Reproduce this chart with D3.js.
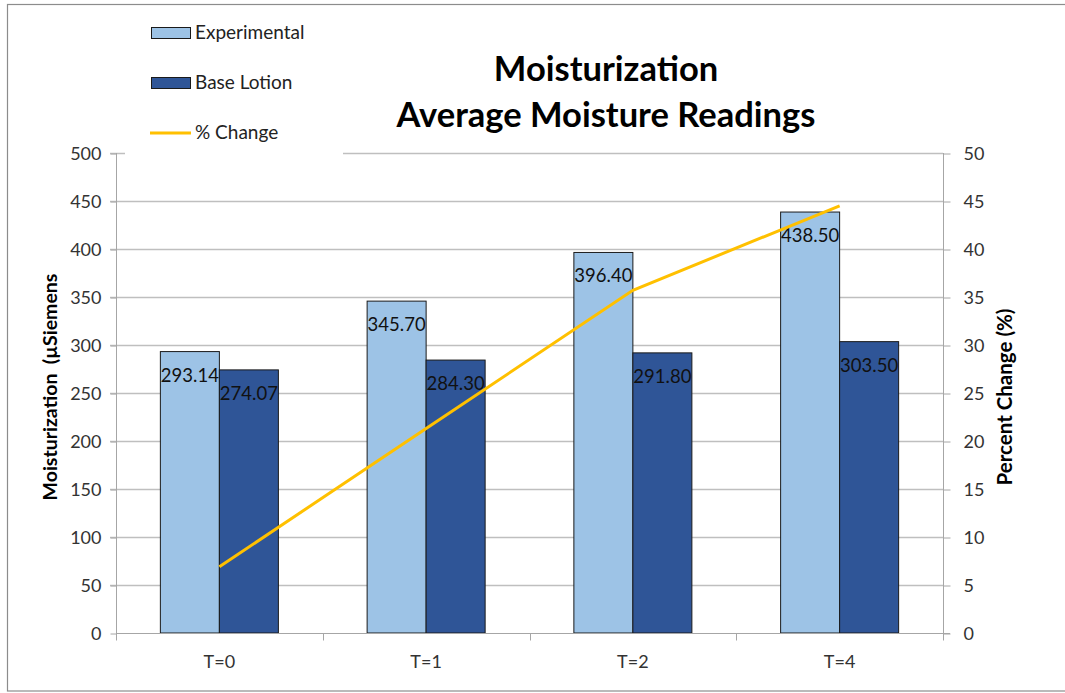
<!DOCTYPE html>
<html>
<head>
<meta charset="utf-8">
<script src="https://d3js.org/d3.v7.min.js"></script>
<style>
  body { margin: 0; background: #fff; overflow: hidden; }
  text { font-family: Lato, "Open Sans", sans-serif; }
</style>
</head>
<body>
<div id="canvas"></div>
<script>
// chart values
var categories = ["T=0", "T=1", "T=2", "T=4"];
var seriesNames = ["Experimental", "Base Lotion"];
var experimental = [293.14, 345.70, 396.40, 438.50];
var baseLotion = [274.07, 284.30, 291.80, 303.50];
var pctChange = [6.9, 21.3, 35.7, 44.5];
var leftTicks = [0, 50, 100, 150, 200, 250, 300, 350, 400, 450, 500];
var rightTicks = [0, 5, 10, 15, 20, 25, 30, 35, 40, 45, 50];

var width = 1065, height = 693;
var colors = { "Experimental": "#9dc3e6", "Base Lotion": "#2f5597" };

var svg = d3.select("#canvas").append("svg")
    .attr("width", width)
    .attr("height", height);

// outer border
svg.append("rect")
    .attr("x", 7.5).attr("y", 4.5)
    .attr("width", 1080).attr("height", 686.5)
    .attr("fill", "white").attr("stroke", "#8c8c8c").attr("stroke-width", 1.2);

var plot = { left: 116, right: 943, top: 153, bottom: 633 };

var x = d3.scaleBand().domain(categories).range([plot.left, plot.right]).padding(0);
var x1 = d3.scaleBand().domain(seriesNames).range([0, x.bandwidth()])
    .paddingInner(0).paddingOuter(0.752);
var y = d3.scaleLinear().domain([0, 500]).range([plot.bottom, plot.top]);
var y2 = d3.scaleLinear().domain([0, 50]).range([plot.bottom, plot.top]);

// gridlines
svg.append("g").selectAll("line").data(leftTicks.slice(1))
    .enter().append("line")
    .attr("x1", plot.left - 6).attr("x2", plot.right)
    .attr("y1", function (d) { return Math.round(y(d)) + 0.5; })
    .attr("y2", function (d) { return Math.round(y(d)) + 0.5; })
    .attr("stroke", "#bfbfbf").attr("stroke-width", 1.3);

// left axis
var leftAxis = svg.append("g")
    .attr("transform", "translate(" + (plot.left + 0.5) + ",0.5)")
    .call(d3.axisLeft(y).tickValues(leftTicks).tickSize(6).tickPadding(9));
// right axis
var rightAxis = svg.append("g")
    .attr("transform", "translate(" + (plot.right + 0.5) + ",0.5)")
    .call(d3.axisRight(y2).tickValues(rightTicks).tickSize(7).tickPadding(13));

[leftAxis, rightAxis].forEach(function (ax) {
    ax.selectAll(".tick line").attr("stroke", "#a6a6a6");
    ax.selectAll(".tick text").attr("fill", "#333").style("font-size", "18px")
        .style("font-family", "Lato, sans-serif");
});
leftAxis.select(".domain").remove();
rightAxis.select(".domain").remove();
svg.append("line").attr("x1", plot.left + 0.5).attr("x2", plot.left + 0.5)
    .attr("y1", plot.top).attr("y2", plot.bottom + 7).attr("stroke", "#a6a6a6");
svg.append("line").attr("x1", plot.right + 0.5).attr("x2", plot.right + 0.5)
    .attr("y1", plot.top).attr("y2", plot.bottom + 7).attr("stroke", "#a6a6a6");

// bars
var barData = [];
categories.forEach(function (c, i) {
    barData.push({ cat: c, s: "Experimental", v: experimental[i] });
    barData.push({ cat: c, s: "Base Lotion", v: baseLotion[i] });
});

svg.append("g").selectAll("rect").data(barData)
    .enter().append("rect")
    .attr("x", function (d) { return x(d.cat) + x1(d.s); })
    .attr("y", function (d) { return y(d.v); })
    .attr("width", x1.bandwidth())
    .attr("height", function (d) { return plot.bottom - y(d.v); })
    .attr("fill", function (d) { return colors[d.s]; })
    .attr("stroke", "#1a1a1a").attr("stroke-width", 1);

// x axis
var xAxis = svg.append("g")
    .attr("transform", "translate(0," + (plot.bottom + 0.5) + ")");
xAxis.append("line").attr("x1", plot.left).attr("x2", plot.right + 7)
    .attr("stroke", "#a6a6a6");
var boundaries = categories.map(function (c) { return x(c); }).concat([plot.right]);
xAxis.selectAll("line.tk").data(boundaries).enter().append("line")
    .attr("class", "tk")
    .attr("x1", function (d) { return Math.round(d) + 0.5; })
    .attr("x2", function (d) { return Math.round(d) + 0.5; })
    .attr("y1", 0).attr("y2", 7).attr("stroke", "#a6a6a6");
xAxis.selectAll("text").data(categories).enter().append("text")
    .attr("x", function (d) { return x(d) + x.bandwidth() / 2; })
    .attr("y", 34)
    .attr("text-anchor", "middle")
    .attr("fill", "#333")
    .style("font-size", "18px")
    .text(function (d) { return d; });

// data labels
svg.append("g").selectAll("text").data(barData)
    .enter().append("text")
    .attr("x", function (d) { return x(d.cat) + x1(d.s) + x1.bandwidth() / 2; })
    .attr("y", function (d) { return y(d.v) + 30; })
    .attr("text-anchor", "middle")
    .attr("fill", "#111")
    .style("font-size", "18.5px")
    .text(function (d) { return d.v.toFixed(2); });

// % change line
var line = d3.line()
    .x(function (d, i) { return x(categories[i]) + x.bandwidth() / 2; })
    .y(function (d) { return y2(d); });
svg.append("path").datum(pctChange)
    .attr("d", line)
    .attr("fill", "none")
    .attr("stroke", "#ffc000")
    .attr("stroke-width", 3);

// legend box (sits over the top of the plot)
svg.append("rect").attr("x", 125).attr("y", 10).attr("width", 218).attr("height", 149)
    .attr("fill", "white");
var legend = svg.append("g");
var legendItems = [
    { name: "Experimental", type: "bar", y: 33 },
    { name: "Base Lotion", type: "bar", y: 83 },
    { name: "% Change", type: "line", y: 133 }
];
legendItems.forEach(function (d) {
    if (d.type === "bar") {
        legend.append("rect")
            .attr("x", 151.5).attr("y", d.y - 5.5)
            .attr("width", 39).attr("height", 11)
            .attr("fill", colors[d.name]).attr("stroke", "#1a1a1a");
    } else {
        legend.append("line")
            .attr("x1", 150).attr("x2", 191)
            .attr("y1", d.y).attr("y2", d.y)
            .attr("stroke", "#ffc000").attr("stroke-width", 3);
    }
    legend.append("text")
        .attr("x", 195).attr("y", d.y + 6)
        .attr("fill", "#222")
        .style("font-size", "19px")
        .text(d.name);
});

// title
var title = svg.append("g").attr("text-anchor", "middle")
    .style("font-weight", "bold").style("font-size", "34.5px").attr("fill", "#000");
title.append("text").attr("x", 606).attr("y", 81).text("Moisturization");
title.append("text").attr("x", 606).attr("y", 127).text("Average Moisture Readings");

// axis titles
svg.append("text")
    .attr("transform", "translate(57,387) rotate(-90)")
    .attr("text-anchor", "middle")
    .style("font-weight", "bold").style("font-size", "19.5px")
    .style("white-space", "pre")
    .attr("fill", "#000")
    .text("Moisturization  (\u00b5Siemens");
svg.append("text")
    .attr("transform", "translate(1012,397) rotate(-90)")
    .attr("text-anchor", "middle")
    .style("font-weight", "bold").style("font-size", "20.5px")
    .attr("fill", "#000")
    .text("Percent Change (%)");
</script>
</body>
</html>
